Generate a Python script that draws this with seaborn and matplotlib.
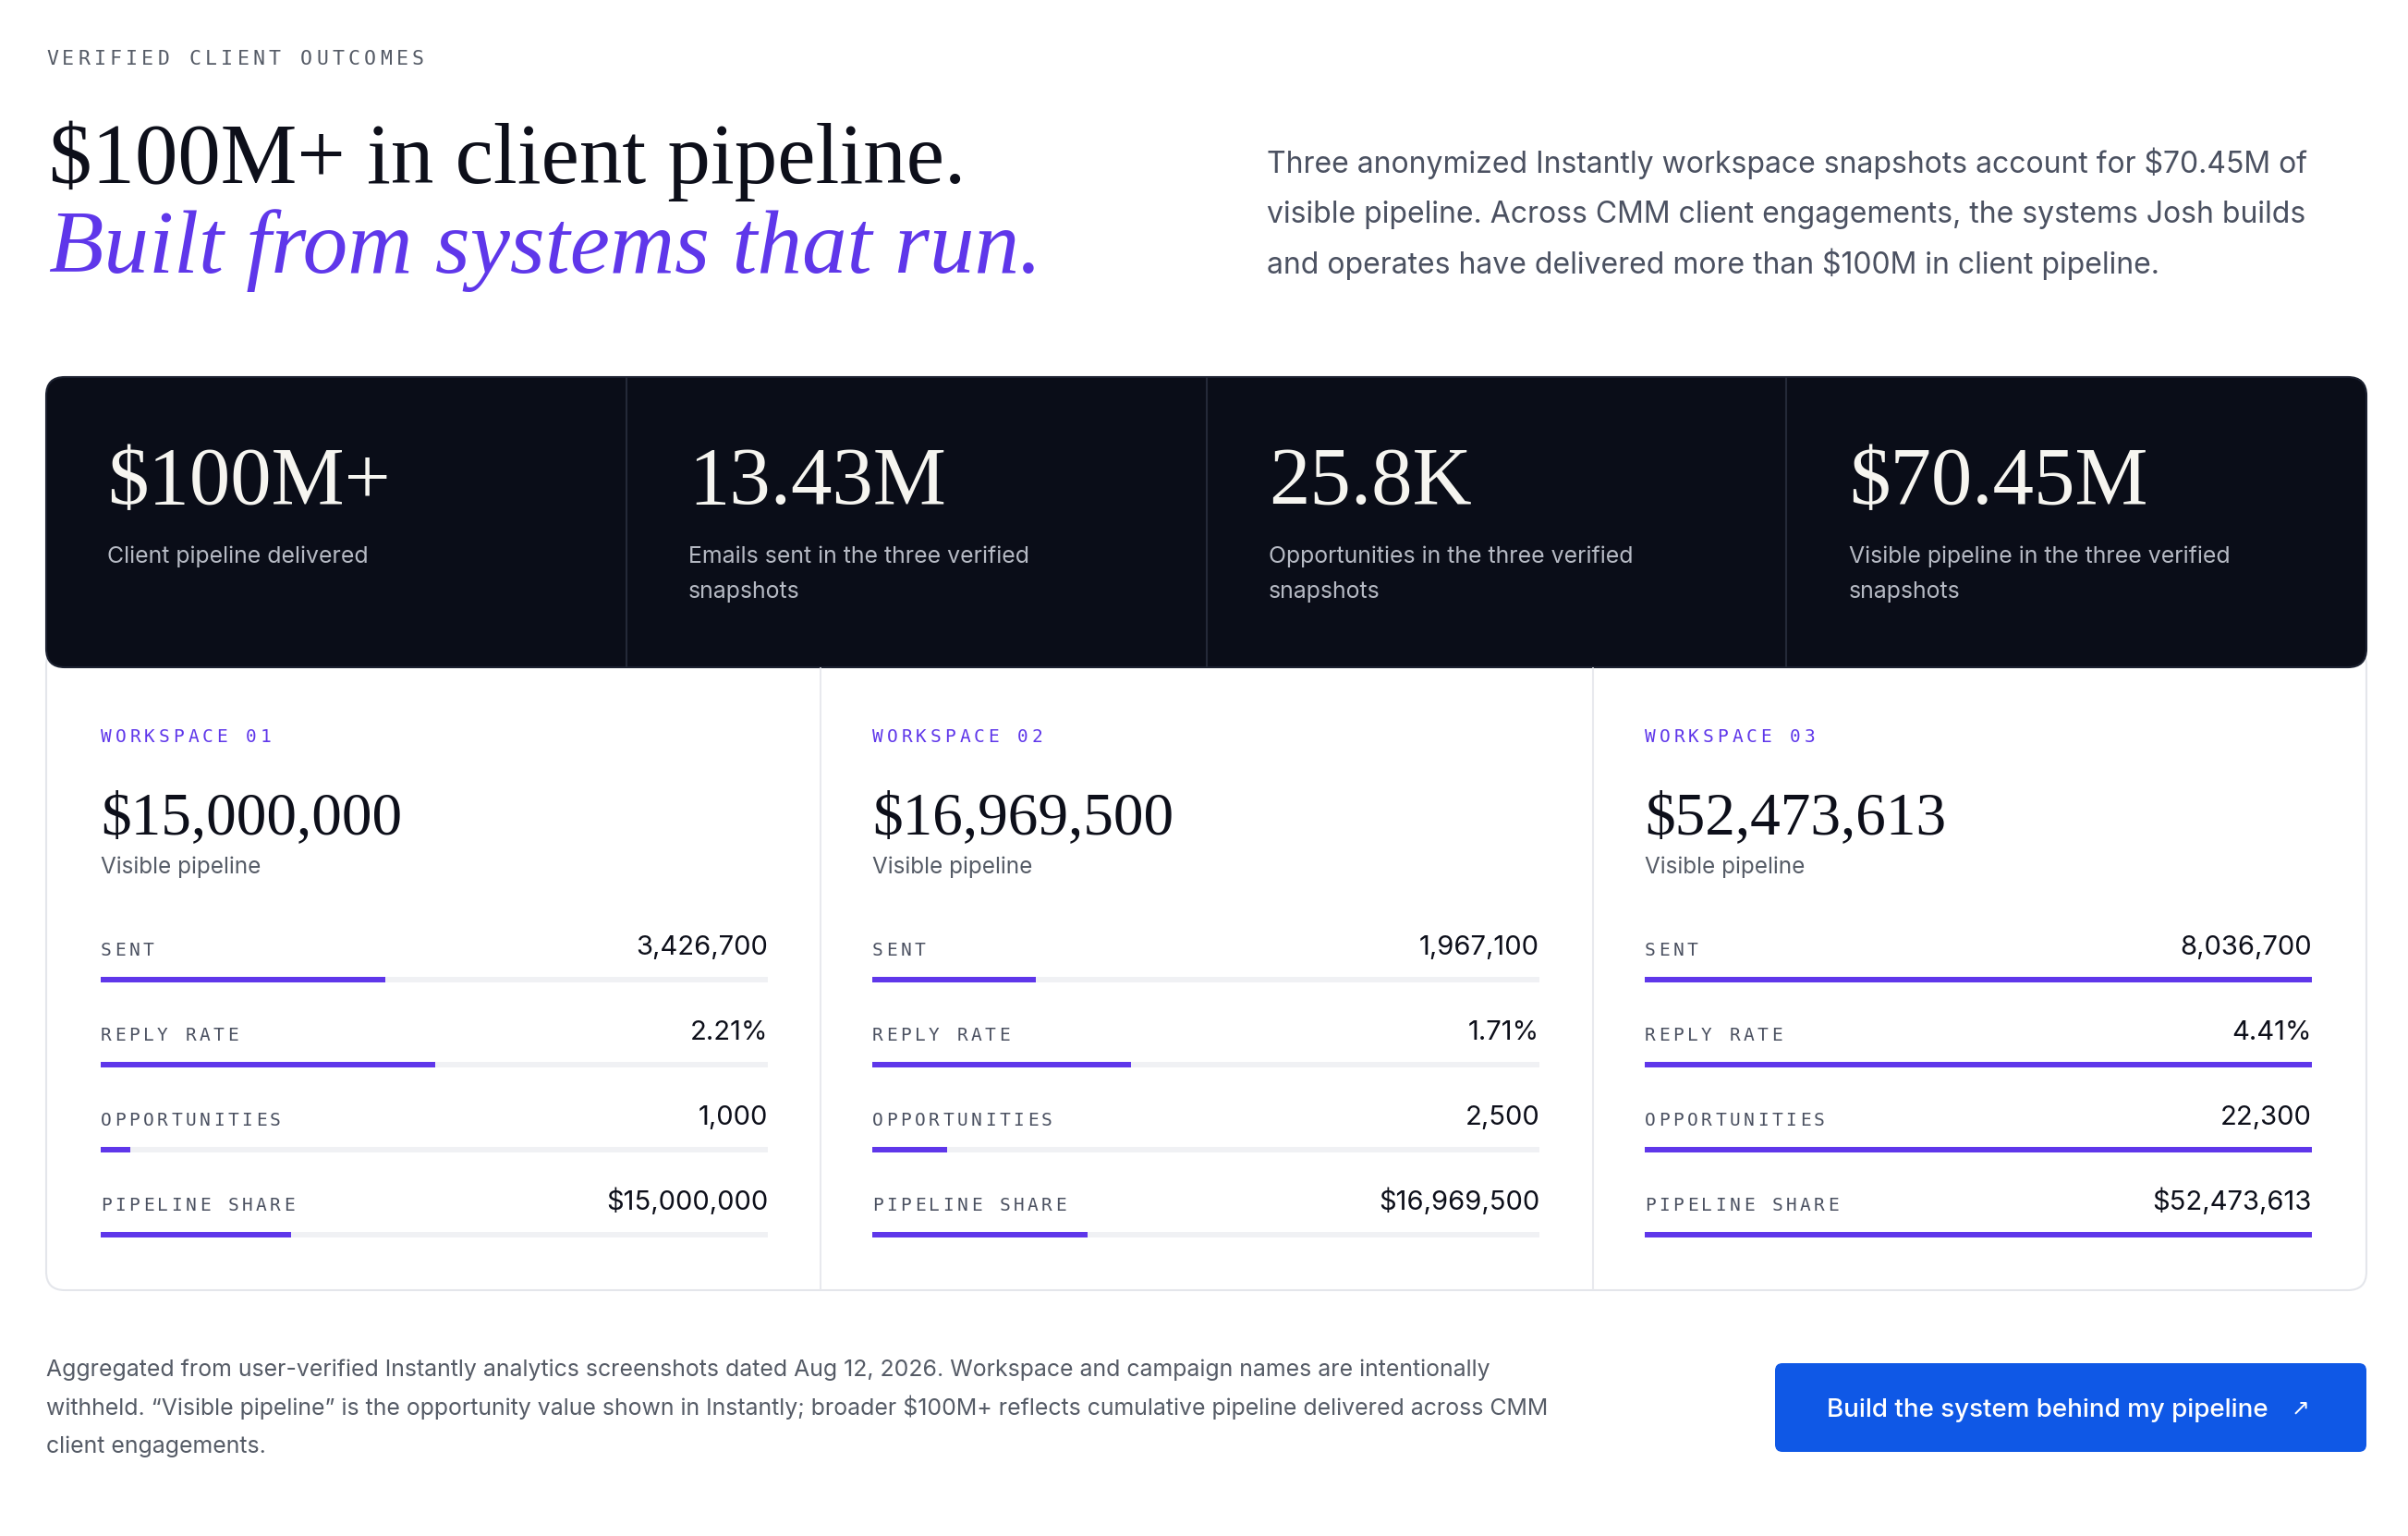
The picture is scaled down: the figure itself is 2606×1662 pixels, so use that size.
import numpy as np
import pandas as pd
import matplotlib.pyplot as plt
from matplotlib.patches import FancyBboxPatch
import seaborn as sns

# ---- content ----
eyebrow = "VERIFIED CLIENT OUTCOMES"
headline = "$100M+ in client pipeline."
headline_italic = "Built from systems that run."
intro_lines = [
    "Three anonymized Instantly workspace snapshots account for $70.45M of",
    "visible pipeline. Across CMM client engagements, the systems Josh builds",
    "and operates have delivered more than $100M in client pipeline.",
]

stat_values = ["$100M+", "13.43M", "25.8K", "$70.45M"]
stat_labels = [
    ["Client pipeline delivered"],
    ["Emails sent in the three verified", "snapshots"],
    ["Opportunities in the three verified", "snapshots"],
    ["Visible pipeline in the three verified", "snapshots"],
]

workspaces = ["WORKSPACE 01", "WORKSPACE 02", "WORKSPACE 03"]
visible_pipeline = [15000000, 16969500, 52473613]
sent = [3426700, 1967100, 8036700]
reply_rate = [2.21, 1.71, 4.41]
opportunities = [1000, 2500, 22300]
pipeline_share = [15000000, 16969500, 52473613]
metric_names = ["SENT", "REPLY RATE", "OPPORTUNITIES", "PIPELINE SHARE"]

footer_lines = [
    "Aggregated from user-verified Instantly analytics screenshots dated Aug 12, 2026. Workspace and campaign names are intentionally",
    "withheld. \u201cVisible pipeline\u201d is the opportunity value shown in Instantly; broader $100M+ reflects cumulative pipeline delivered across CMM",
    "client engagements.",
]
button_text = "Build the system behind my pipeline"

# ---- style ----
sns.set_style("white")
plt.rcParams["font.family"] = ["Inter", "DejaVu Sans"]
plt.rcParams["text.parse_math"] = False

SERIF = "Liberation Serif"
MONO = "DejaVu Sans Mono"
INK = "#0d0f1a"
GRAY = "#4b5161"
PURPLE = "#5f37ea"
PANEL = "#0a0d18"
TRACK = "#f0f1f4"

W, H = 2606, 1662
fig = plt.figure(figsize=(W / 100, H / 100), dpi=100)
fig.patch.set_facecolor("white")
ax = fig.add_axes([0, 0, 1, 1])
ax.set_xlim(0, W)
ax.set_ylim(H, 0)
ax.axis("off")


def spaced(x, y, s, size, step, color):
    cw = 0.602 * size * 100 / 72
    for i, ch in enumerate(s):
        ax.text(x + i * step + cw / 2, y, ch, family=MONO, fontsize=size,
                color=color, ha="center", va="baseline")


# header
spaced(50, 70, eyebrow, 15.5, 17.2, "#555b66")
ax.text(53, 198, headline, family=SERIF, fontsize=67, color=INK, va="baseline")
ax.text(53, 295, headline_italic, family=SERIF, style="italic", fontsize=70,
        color=PURPLE, va="baseline")
for i, line in enumerate(intro_lines):
    ax.text(1371, 187 + i * 54.5, line, fontsize=23, color=GRAY, va="baseline")

# cards frame, then dark stat band over its top
ax.add_patch(FancyBboxPatch((50, 700), 2511, 696, boxstyle="round,pad=0,rounding_size=20",
                            fc="white", ec="#e4e6eb", lw=1.5, zorder=1))
ax.add_patch(FancyBboxPatch((50, 408), 2511, 314, boxstyle="round,pad=0,rounding_size=20",
                            fc=PANEL, ec="#1c2130", lw=1.5, zorder=2))
for xd in [678, 1306, 1933]:
    ax.plot([xd, xd], [409, 721], color="#242938", lw=1.5, zorder=3)
for xd in [888, 1724]:
    ax.plot([xd, xd], [723, 1395], color="#e8e9ee", lw=1.5, zorder=3)

stat_x = [116, 745, 1373, 2001]
for sx, val, lab in zip(stat_x, stat_values, stat_labels):
    ax.text(sx, 545, val, family=SERIF, fontsize=64, color="#f6f5f0", va="baseline", zorder=4)
    for j, l in enumerate(lab):
        ax.text(sx, 609 + j * 38, l, fontsize=17.9, color="#b6bac4", va="baseline", zorder=4)

# workspace cards
card_x = [109, 944, 1780]
bar_w = 722
row0, row_gap = 1060, 92
metrics = [sent, reply_rate, opportunities, pipeline_share]
for k, cx in enumerate(card_x):
    spaced(cx, 803, workspaces[k], 14, 15.7, PURPLE)
    ax.text(cx, 902, f"${visible_pipeline[k]:,}", family=SERIF, fontsize=47, color=INK,
            va="baseline", zorder=4)
    ax.text(cx, 945, "Visible pipeline", fontsize=17.5, color="#555b66", va="baseline")

    values = [f"{sent[k]:,}", f"{reply_rate[k]:.2f}%", f"{opportunities[k]:,}",
              f"${pipeline_share[k]:,}"]
    for i, (name, v) in enumerate(zip(metric_names, values)):
        yb = row0 + i * row_gap - 26
        spaced(cx, yb, name, 14, 15.25, "#4b5161")
        ax.text(cx + bar_w, yb - 1, v, fontsize=21, color=INK, ha="right", va="baseline")

    df = pd.DataFrame({
        "metric": metric_names,
        "track": np.ones(4),
        "share": [m[k] / max(m) for m in metrics],
    })
    axc = fig.add_axes([cx / W, 1 - (row0 + 3 * row_gap + row_gap / 2) / H,
                        bar_w / W, 4 * row_gap / H])
    sns.barplot(data=df, x="track", y="metric", color=TRACK, saturation=1,
                width=0.066, linewidth=0, errorbar=None, ax=axc)
    sns.barplot(data=df, x="share", y="metric", color=PURPLE, saturation=1,
                width=0.066, linewidth=0, errorbar=None, ax=axc)
    axc.set_xlim(0, 1)
    axc.set_ylim(3.5, -0.5)
    axc.axis("off")

# footer
for i, line in enumerate(footer_lines):
    ax.text(50, 1489 + i * 41.5, line, fontsize=17.9, color="#555b66", va="baseline")

ax.add_patch(FancyBboxPatch((1921, 1475), 640, 96, boxstyle="round,pad=0,rounding_size=8",
                            fc="#0f58e6", ec="none", zorder=2))
ax.text(1977, 1533, button_text, fontsize=20, color="white", fontweight="medium",
        va="baseline", zorder=4)
ax.text(2490, 1531, "\u2197", family=["DejaVu Sans"], fontsize=17, color="white",
        ha="center", va="baseline", zorder=4)

fig.savefig("out.png", dpi=100, facecolor="white")
